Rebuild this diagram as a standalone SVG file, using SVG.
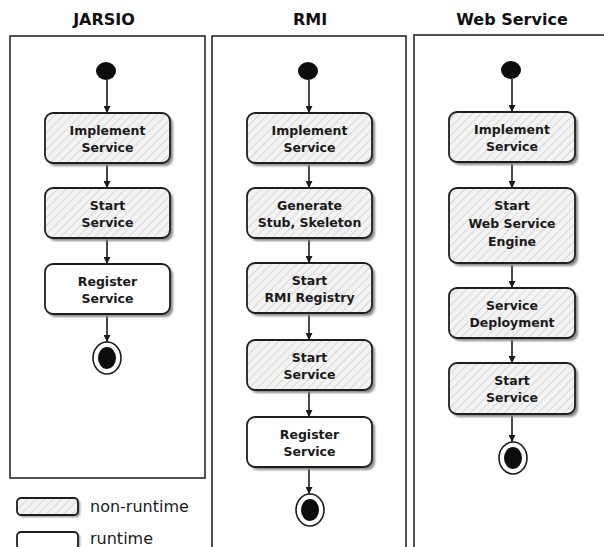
<svg xmlns="http://www.w3.org/2000/svg" width="604" height="547" viewBox="0 0 604 547">
  <style>
    .panel { fill: #ffffff; stroke: #2a2a2a; stroke-width: 1.6; }
    .title { font-family: "DejaVu Sans", sans-serif; font-weight: bold; font-size: 16px; fill: #111; text-anchor: middle; }
    .act { stroke: #1e1e1e; stroke-width: 1.8; }
    .hatch { fill: url(#diag); }
    .plain { fill: #ffffff; }
    .shadow { fill: #8a8a8a; filter: url(#soft); }
    .lbl { font-family: "DejaVu Sans", sans-serif; font-weight: bold; font-size: 12.5px; fill: #1a1a1a; text-anchor: middle; }
    .legend { font-family: "DejaVu Sans", sans-serif; font-size: 16px; fill: #1a1a1a; }
    .flow { stroke: #1a1a1a; stroke-width: 1.6; fill: none; marker-end: url(#head); }
    .dot { fill: #0d0d0d; }
    .ring { fill: #ffffff; stroke: #1a1a1a; stroke-width: 1.6; }
  </style>
  <defs>
    <pattern id="diag" patternUnits="userSpaceOnUse" width="6" height="6" patternTransform="rotate(45)">
      <rect width="6" height="6" fill="#f3f3f3"/>
      <line x1="0" y1="0" x2="0" y2="6" stroke="#c4c4c4" stroke-width="1.2"/>
    </pattern>
    <filter id="soft" x="-10%" y="-10%" width="120%" height="130%">
      <feGaussianBlur stdDeviation="1"/>
    </filter>
    <marker id="head" viewBox="0 0 10 10" refX="10" refY="5" markerWidth="7" markerHeight="7" markerUnits="userSpaceOnUse" orient="auto">
      <path d="M0,0 L10,5 L0,10 z" fill="#1a1a1a"/>
    </marker>
  </defs>

  <rect width="604" height="547" fill="#ffffff"/>

  <!-- swimlane frames -->
  <g id="lanes">
    <rect class="panel" x="10" y="36" width="195" height="442"/>
    <rect class="panel" x="212" y="36" width="194" height="520"/>
    <rect class="panel" x="414" y="35" width="200" height="520"/>
    <text class="title" x="104" y="25">JARSIO</text>
    <text class="title" x="310" y="25">RMI</text>
    <text class="title" x="512" y="25">Web Service</text>
  </g>

  <!-- connectors -->
  <g id="connectors">
    <line class="flow" x1="107" y1="80" x2="107" y2="113"/>
    <line class="flow" x1="107" y1="163" x2="107" y2="188"/>
    <line class="flow" x1="107" y1="238" x2="107" y2="264"/>
    <line class="flow" x1="107" y1="314" x2="107" y2="342"/>

    <line class="flow" x1="309" y1="80" x2="309" y2="113"/>
    <line class="flow" x1="309" y1="163" x2="309" y2="188"/>
    <line class="flow" x1="309" y1="238" x2="309" y2="263"/>
    <line class="flow" x1="309" y1="313" x2="309" y2="340"/>
    <line class="flow" x1="309" y1="390" x2="309" y2="417"/>
    <line class="flow" x1="309" y1="467" x2="309" y2="494"/>

    <line class="flow" x1="512" y1="79" x2="512" y2="112"/>
    <line class="flow" x1="512" y1="162" x2="512" y2="188"/>
    <line class="flow" x1="512" y1="263" x2="512" y2="288"/>
    <line class="flow" x1="512" y1="338" x2="512" y2="363"/>
    <line class="flow" x1="512" y1="414" x2="512" y2="442"/>
  </g>

  <!-- JARSIO lane -->
  <g id="j-start"><ellipse class="dot" cx="106" cy="71" rx="10" ry="9"/></g>
  <g id="j-implement">
    <rect class="shadow" x="48" y="116" width="125" height="50" rx="8"/>
    <rect class="act hatch" x="45" y="113" width="125" height="50" rx="8"/>
    <text class="lbl" x="107.5" y="135"><tspan x="107.5">Implement</tspan><tspan x="107.5" dy="17">Service</tspan></text>
  </g>
  <g id="j-start-service">
    <rect class="shadow" x="48" y="191" width="125" height="50" rx="8"/>
    <rect class="act hatch" x="45" y="188" width="125" height="50" rx="8"/>
    <text class="lbl" x="107.5" y="210"><tspan x="107.5">Start</tspan><tspan x="107.5" dy="17">Service</tspan></text>
  </g>
  <g id="j-register">
    <rect class="shadow" x="48" y="267" width="125" height="50" rx="8"/>
    <rect class="act plain" x="45" y="264" width="125" height="50" rx="8"/>
    <text class="lbl" x="107.5" y="286"><tspan x="107.5">Register</tspan><tspan x="107.5" dy="17">Service</tspan></text>
  </g>
  <g id="j-end">
    <ellipse class="ring" cx="107" cy="358" rx="14" ry="16"/>
    <ellipse class="dot" cx="107" cy="358" rx="9" ry="11"/>
  </g>

  <!-- RMI lane -->
  <g id="r-start"><ellipse class="dot" cx="308" cy="71" rx="10" ry="9"/></g>
  <g id="r-implement">
    <rect class="shadow" x="250" y="116" width="125" height="50" rx="8"/>
    <rect class="act hatch" x="247" y="113" width="125" height="50" rx="8"/>
    <text class="lbl" x="309.5" y="135"><tspan x="309.5">Implement</tspan><tspan x="309.5" dy="17">Service</tspan></text>
  </g>
  <g id="r-generate">
    <rect class="shadow" x="250" y="191" width="125" height="50" rx="8"/>
    <rect class="act hatch" x="247" y="188" width="125" height="50" rx="8"/>
    <text class="lbl" x="309.5" y="210"><tspan x="309.5">Generate</tspan><tspan x="309.5" dy="17">Stub, Skeleton</tspan></text>
  </g>
  <g id="r-registry">
    <rect class="shadow" x="250" y="266" width="125" height="50" rx="8"/>
    <rect class="act hatch" x="247" y="263" width="125" height="50" rx="8"/>
    <text class="lbl" x="309.5" y="285"><tspan x="309.5">Start</tspan><tspan x="309.5" dy="17">RMI Registry</tspan></text>
  </g>
  <g id="r-start-service">
    <rect class="shadow" x="250" y="343" width="125" height="50" rx="8"/>
    <rect class="act hatch" x="247" y="340" width="125" height="50" rx="8"/>
    <text class="lbl" x="309.5" y="362"><tspan x="309.5">Start</tspan><tspan x="309.5" dy="17">Service</tspan></text>
  </g>
  <g id="r-register">
    <rect class="shadow" x="250" y="420" width="125" height="50" rx="8"/>
    <rect class="act plain" x="247" y="417" width="125" height="50" rx="8"/>
    <text class="lbl" x="309.5" y="439"><tspan x="309.5">Register</tspan><tspan x="309.5" dy="17">Service</tspan></text>
  </g>
  <g id="r-end">
    <ellipse class="ring" cx="310" cy="510" rx="14" ry="16"/>
    <ellipse class="dot" cx="310" cy="510" rx="9" ry="11"/>
  </g>

  <!-- Web Service lane -->
  <g id="w-start"><ellipse class="dot" cx="511" cy="70" rx="10" ry="9"/></g>
  <g id="w-implement">
    <rect class="shadow" x="452" y="115" width="126" height="50" rx="8"/>
    <rect class="act hatch" x="449" y="112" width="126" height="50" rx="8"/>
    <text class="lbl" x="512" y="134"><tspan x="512">Implement</tspan><tspan x="512" dy="17">Service</tspan></text>
  </g>
  <g id="w-engine">
    <rect class="shadow" x="452" y="191" width="126" height="75" rx="8"/>
    <rect class="act hatch" x="449" y="188" width="126" height="75" rx="8"/>
    <text class="lbl" x="512" y="210"><tspan x="512">Start</tspan><tspan x="512" dy="18">Web Service</tspan><tspan x="512" dy="18">Engine</tspan></text>
  </g>
  <g id="w-deploy">
    <rect class="shadow" x="452" y="291" width="126" height="50" rx="8"/>
    <rect class="act hatch" x="449" y="288" width="126" height="50" rx="8"/>
    <text class="lbl" x="512" y="310"><tspan x="512">Service</tspan><tspan x="512" dy="17">Deployment</tspan></text>
  </g>
  <g id="w-start-service">
    <rect class="shadow" x="452" y="366" width="126" height="51" rx="8"/>
    <rect class="act hatch" x="449" y="363" width="126" height="51" rx="8"/>
    <text class="lbl" x="512" y="385"><tspan x="512">Start</tspan><tspan x="512" dy="17">Service</tspan></text>
  </g>
  <g id="w-end">
    <ellipse class="ring" cx="513" cy="458" rx="14" ry="16"/>
    <ellipse class="dot" cx="513" cy="458" rx="9" ry="11"/>
  </g>

  <!-- legend -->
  <g id="legend-nonruntime">
    <rect class="shadow" x="19" y="500" width="61" height="17" rx="4"/>
    <rect class="act hatch" x="17" y="498" width="61" height="17" rx="4"/>
    <text class="legend" x="90" y="512">non-runtime</text>
  </g>
  <g id="legend-runtime">
    <rect class="shadow" x="19" y="534" width="61" height="17" rx="4"/>
    <rect class="act plain" x="17" y="532" width="61" height="17" rx="4"/>
    <text class="legend" x="90" y="544">runtime</text>
  </g>
</svg>
